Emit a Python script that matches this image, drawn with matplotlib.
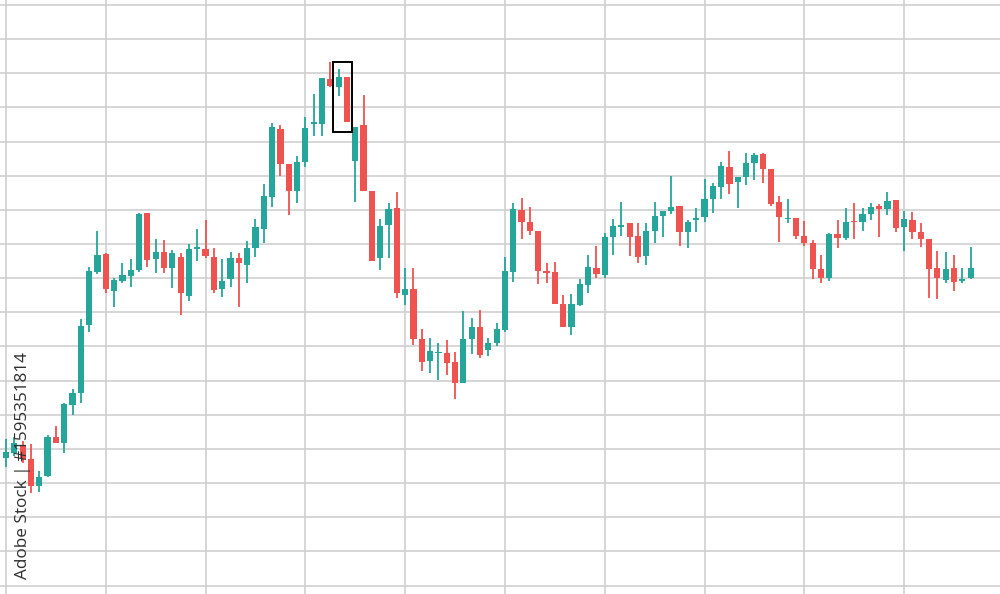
import matplotlib.pyplot as plt
from matplotlib.patches import Rectangle
import numpy as np

# candle data (arbitrary price units)
opens = [142, 147, 155, 141, 114, 124, 163, 157, 195, 207, 275, 328, 346, 309, 319, 324,
         330, 387, 341, 348, 332, 343, 304, 351, 351, 343, 311, 321, 342, 335, 352, 371,
         403, 471, 436, 409, 438, 476, 476, 521, 513, 523, 439, 475, 409, 342, 375, 392,
         305, 311, 261, 239, 247, 247, 238, 217, 261, 273, 250, 257, 270, 328, 390, 378,
         369, 329, 328, 296, 273, 295, 315, 332, 325, 363, 373, 377, 364, 344, 369, 384,
         389, 394, 368, 380, 383, 401, 413, 433, 418, 423, 437, 446, 431, 398, 381, 382,
         364, 357, 331, 322, 366, 362, 379, 378, 386, 394, 391, 400, 373, 380, 368, 361,
         332, 320, 332, 319, 322]
closes = [148, 157, 141, 114, 123, 163, 157, 196, 207, 274, 329, 345, 311, 320, 325, 330,
          386, 340, 348, 332, 347, 307, 351, 353, 344, 310, 319, 342, 337, 352, 373, 404,
          473, 436, 409, 438, 472, 478, 522, 514, 523, 478, 473, 409, 339, 374, 391, 307,
          311, 261, 238, 249, 248, 237, 217, 261, 273, 245, 257, 271, 329, 391, 378, 369,
          329, 327, 296, 273, 296, 316, 333, 326, 363, 374, 375, 363, 343, 369, 384, 389,
          393, 368, 378, 382, 401, 414, 434, 416, 423, 437, 445, 431, 396, 383, 382, 364,
          357, 331, 322, 366, 362, 378, 378, 386, 393, 391, 399, 372, 381, 368, 361, 331,
          322, 331, 318, 321, 332]
highs = [161, 163, 159, 156, 129, 165, 174, 197, 211, 281, 333, 369, 347, 322, 337, 341,
         387, 387, 361, 360, 350, 347, 356, 371, 380, 352, 341, 348, 347, 359, 381, 416,
         477, 475, 436, 444, 483, 506, 522, 538, 531, 523, 473, 505, 409, 381, 397, 408,
         332, 332, 271, 262, 257, 260, 248, 289, 282, 290, 262, 277, 343, 397, 402, 393,
         369, 337, 338, 305, 306, 321, 345, 354, 367, 381, 398, 377, 377, 377, 398, 389,
         424, 394, 380, 392, 421, 417, 438, 449, 423, 447, 447, 447, 431, 404, 401, 382,
         379, 360, 345, 367, 380, 392, 397, 392, 397, 396, 408, 400, 389, 388, 377, 361,
         349, 348, 345, 332, 353]
lows = [133, 144, 137, 107, 108, 123, 157, 147, 185, 197, 268, 326, 307, 293, 317, 313,
        328, 333, 327, 327, 312, 285, 299, 339, 342, 307, 303, 313, 293, 317, 343, 357,
        393, 424, 385, 397, 433, 464, 464, 513, 504, 478, 398, 409, 339, 330, 342, 302,
        295, 255, 229, 227, 220, 225, 201, 217, 246, 242, 244, 254, 268, 318, 361, 365,
        316, 317, 296, 273, 265, 294, 307, 322, 322, 345, 364, 344, 337, 335, 357, 363,
        386, 354, 352, 368, 378, 387, 401, 406, 392, 415, 420, 417, 394, 358, 377, 361,
        354, 321, 317, 319, 352, 360, 361, 369, 380, 363, 385, 368, 349, 361, 353, 302,
        301, 317, 309, 317, 321]

up_col = '#26a69a'
down_col = '#ef5350'

x = np.arange(len(opens))
o = np.array(opens)
c = np.array(closes)
colors = [up_col if cc >= oo else down_col for oo, cc in zip(o, c)]
bottoms = np.minimum(o, c)
heights = np.maximum(np.abs(c - o), 1.5)

fig = plt.figure(figsize=(10, 5.94), dpi=100)
ax = fig.add_axes([0, 0, 1, 1])

# grid
for gx in np.arange(0, 117, 12):
    ax.axvline(gx, color='#cfcfcf', lw=1.2, zorder=0)
for gy in np.arange(595, 0, -34.15):
    ax.axhline(gy, color='#cfcfcf', lw=1.2, zorder=0)

ax.vlines(x, lows, highs, colors=colors, lw=1.3, zorder=2)
ax.bar(x, heights, bottom=bottoms, width=0.75, color=colors, zorder=3)

# highlight box
ax.add_patch(Rectangle((39.35, 468), 2.25, 70, fill=False, ec='black', lw=1.4, zorder=4))

ax.set_xlim(-0.72, 119.53)
ax.set_ylim(6, 600)
ax.axis('off')

fig.text(0.023, 0.217, 'Adobe Stock | #1595351814', rotation=90, ha='center', va='center',
         fontsize=12.3, color='#2e2e2e', family='Open Sans')

fig.savefig('out.png', dpi=100, facecolor='white')
